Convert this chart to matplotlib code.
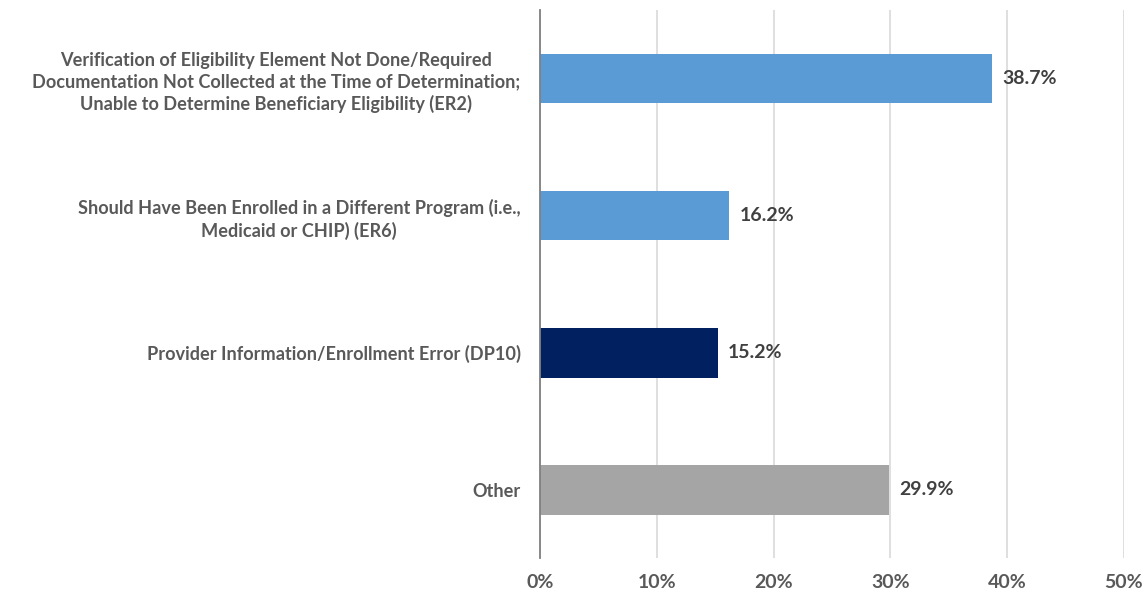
import matplotlib.pyplot as plt
from matplotlib.ticker import FuncFormatter

categories = [
    "Verification of Eligibility Element Not Done/Required\nDocumentation Not Collected at the Time of Determination;\nUnable to Determine Beneficiary Eligibility (ER2)",
    "Should Have Been Enrolled in a Different Program (i.e.,\nMedicaid or CHIP) (ER6)",
    "Provider Information/Enrollment Error (DP10)",
    "Other",
]
values = [38.7, 16.2, 15.2, 29.9]
colors = ["#5B9BD5", "#5B9BD5", "#002060", "#A5A5A5"]
xticks = [0, 10, 20, 30, 40, 50]

plt.rcParams['font.family'] = ['Lato', 'DejaVu Sans']

fig = plt.figure(figsize=(11.46, 5.91), dpi=100)
ax = fig.add_axes([0.4712, 0.055, 0.5096, 0.928])

ypos = range(len(categories))
ax.barh(ypos, values, height=0.36, color=colors, zorder=3)
for y, v in zip(ypos, values):
    ax.text(v + 0.9, y, f"{v:.1f}%", va='center', ha='left',
            fontsize=14, fontweight='bold', color='#404040')

ax.set_xlim(0, 50)
ax.set_ylim(3.5, -0.5)
ax.set_xticks(xticks)
ax.xaxis.set_major_formatter(FuncFormatter(lambda x, p: f"{x:.0f}%"))
ax.set_yticks(list(ypos))
ax.set_yticklabels(categories, fontsize=13.1, fontweight='bold', color='#595959',
                   ha='right', multialignment='center', linespacing=1.3)
ax.tick_params(axis='y', length=0, pad=14)
ax.tick_params(axis='x', length=0, pad=11, labelsize=14, labelcolor='#595959')
for lab in ax.get_xticklabels():
    lab.set_fontweight('bold')

ax.grid(axis='x', color='#D9D9D9', linewidth=1.2, zorder=0)
for s in ['top', 'right', 'bottom']:
    ax.spines[s].set_visible(False)
ax.spines['left'].set_color('#808080')
ax.spines['left'].set_linewidth(1.3)
ax.spines['left'].set_zorder(4)

fig.savefig("out.png", dpi=100)
